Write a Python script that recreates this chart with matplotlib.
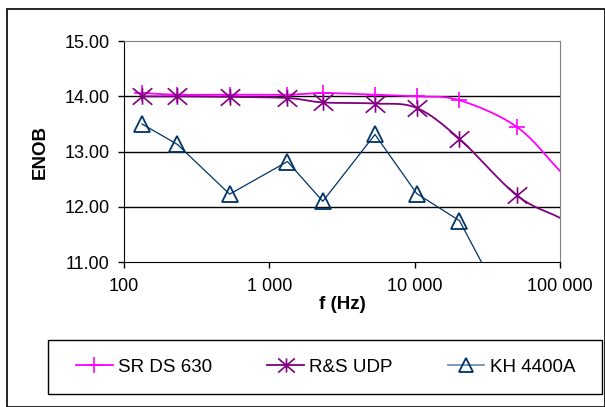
import numpy as np
import matplotlib.pyplot as plt
from matplotlib.path import Path
from matplotlib.patches import Rectangle

plt.rcParams['font.family'] = ['Liberation Sans', 'DejaVu Sans']

freq = [133, 233, 533, 1333, 2333, 5333, 10333, 20333, 50333]
sr_freq = freq + [100000]
sr_enob = [14.06, 14.03, 14.03, 14.03, 14.06, 14.03, 14.00, 13.93, 13.45, 12.65]
rs_freq = freq + [100000]
rs_enob = [14.00, 14.00, 13.99, 13.97, 13.89, 13.87, 13.79, 13.23, 12.21, 11.80]
kh_freq = freq
kh_enob = [13.50, 13.13, 12.23, 12.82, 12.10, 13.31, 12.24, 11.75, 9.80]

xticks = [100, 1000, 10000, 100000]
xticklabels = ['100', '1 000', '10 000', '100 000']
yticks = [11, 12, 13, 14, 15]


def smooth(x, y, n=20):
    # excel-like smoothed line: catmull-rom in log-x space
    lx = np.log10(x)
    y = np.asarray(y, float)
    px = np.concatenate([[2 * lx[0] - lx[1]], lx, [2 * lx[-1] - lx[-2]]])
    py = np.concatenate([[2 * y[0] - y[1]], y, [2 * y[-1] - y[-2]]])
    ox, oy = [], []
    t = np.linspace(0, 1, n)
    for i in range(1, len(px) - 2):
        for p, o in ((px, ox), (py, oy)):
            p0, p1, p2, p3 = p[i - 1], p[i], p[i + 1], p[i + 2]
            seg = 0.5 * ((2 * p1) + (-p0 + p2) * t + (2 * p0 - 5 * p1 + 4 * p2 - p3) * t ** 2
                         + (-p0 + 3 * p1 - 3 * p2 + p3) * t ** 3)
            o.extend(seg)
    return 10 ** np.array(ox), np.array(oy)


star = Path([(0, -0.85), (0, 0.85), (-1, -0.85), (1, 0.85), (-1, 0.85), (1, -0.85)],
            [Path.MOVETO, Path.LINETO, Path.MOVETO, Path.LINETO, Path.MOVETO, Path.LINETO])

fig = plt.figure(figsize=(6.05, 4.07), dpi=100)
ax = fig.add_axes([0.205, 0.356, 0.7206, 0.543])

sr_c = '#FF00FF'
rs_c = '#800080'
kh_c = '#003366'

sx, sy = smooth(sr_freq, sr_enob)
ax.plot(sx, sy, color=sr_c, lw=1.3, zorder=3)
ax.plot(sr_freq[:-1], sr_enob[:-1], ls='none', marker='+', ms=12, mew=1.2, color=sr_c, zorder=4)
rx, ry = smooth(rs_freq, rs_enob)
ax.plot(rx, ry, color=rs_c, lw=1.3, zorder=3)
ax.plot(rs_freq[:-1], rs_enob[:-1], ls='none', marker=star, ms=14, mew=1.2, color=rs_c, zorder=4)
ax.plot(kh_freq, kh_enob, color=kh_c, lw=0.9, marker='^', ms=11, mfc='none', mec=kh_c, mew=1.3, zorder=3)

# legend proxies
h1, = ax.plot([], [], color=sr_c, lw=1.3, marker='+', ms=12, mew=1.2)
h2, = ax.plot([], [], color=rs_c, lw=1.3, marker=star, ms=12, mew=1.2)
h3, = ax.plot([], [], color='#7090B0', lw=1.3, marker='^', ms=10, mfc='none', mec=kh_c, mew=1.3)

ax.set_xscale('log')
ax.set_xlim(100, 100000)
ax.set_ylim(11, 15)
ax.set_xticks(xticks)
ax.set_xticklabels(xticklabels)
ax.xaxis.set_minor_locator(plt.NullLocator())
ax.set_yticks(yticks)
ax.set_yticklabels(['%.2f' % v for v in yticks])
ax.tick_params(axis='both', labelsize=13, direction='out', length=4.5, width=1, color='black')
ax.tick_params(axis='x', pad=7)
ax.tick_params(axis='y', pad=6)

for v in [12, 13, 14]:
    ax.axhline(v, color='black', lw=1, zorder=1)
ax.spines['left'].set_color('black')
ax.spines['bottom'].set_color('black')
ax.spines['top'].set_color('#808080')
ax.spines['right'].set_color('#808080')

ax.set_xlabel('f (Hz)', fontsize=13.5, fontweight='bold', labelpad=1)
ax.set_ylabel('ENOB', fontsize=13.5, fontweight='bold', labelpad=11)

fig.legend([h1, h2, h3], ['SR DS 630', 'R&S UDP', 'KH 4400A'], ncol=3,
           loc='center left', bbox_to_anchor=(76 / 605, 1 - 367 / 407),
           fontsize=13.5, frameon=False, borderpad=0, borderaxespad=0,
           handlelength=1.97, handletextpad=0.27, columnspacing=2.93)
# legend box
fig.patches.append(Rectangle((48 / 605, 1 - 394 / 407), 554 / 605, 54 / 407, transform=fig.transFigure,
                             fill=False, edgecolor='black', lw=1))

fig.patches.append(Rectangle((7 / 605, 0), 598 / 605, 1 - 9 / 407, transform=fig.transFigure,
                             fill=False, edgecolor='black', lw=1.2))

fig.savefig('out.png', dpi=100)
